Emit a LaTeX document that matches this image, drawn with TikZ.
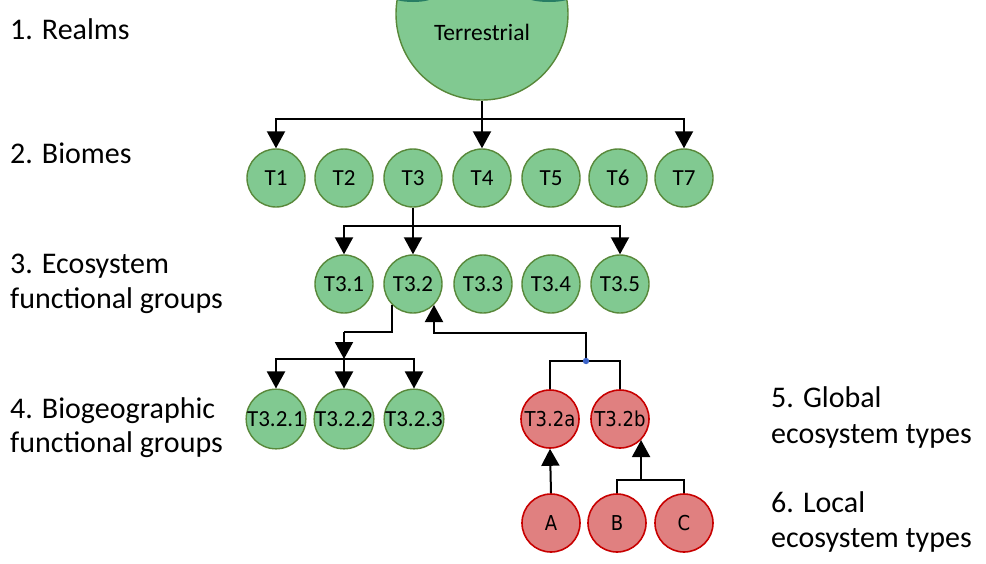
\documentclass[tikz,border=0pt]{standalone}
\usepackage{fontspec}
\setmainfont{Carlito}
\newfontfamily\redfont{DejaVu Sans}[FakeStretch=0.88]
\usetikzlibrary{arrows.meta,calc}
\definecolor{gfill}{RGB}{129,201,145}
\definecolor{gdraw}{RGB}{88,136,58}
\definecolor{rfill}{RGB}{224,128,128}
\definecolor{rdraw}{RGB}{200,0,0}
\definecolor{teal}{RGB}{40,125,100}
\definecolor{dotblue}{RGB}{60,100,200}
\begin{document}
\begin{tikzpicture}[x=1pt,y=-1pt,
  gnode/.style={circle,draw=gdraw,fill=gfill,line width=1.4pt,minimum size=58pt,inner sep=0pt,font=\fontsize{23}{25}\selectfont},
  rnode/.style={circle,draw=rdraw,fill=rfill,line width=1.6pt,minimum size=58pt,inner sep=0pt,font=\redfont\fontsize{20.5}{22}\selectfont},
  conn/.style={line width=2pt,black},
  arr/.style={conn,-{Triangle[length=17pt,width=18pt]}},
  lab/.style={anchor=base west,inner sep=0pt,font=\fontsize{30}{35}\selectfont}]
\useasboundingbox (0,0) rectangle (986,563);
% realm
\node[circle,draw=gdraw,fill=gfill,line width=1.4pt,minimum size=172pt,inner sep=0pt] (terr) at (482,14) {};
\begin{scope}
\clip (0,0) rectangle (986,563);
\fill[teal] (413,-3) ellipse (20pt and 5pt);
\fill[teal] (549,-3) ellipse (22pt and 5pt);
\end{scope}
\node[font=\fontsize{23.5}{25}\selectfont,inner sep=0pt] (terrtext) at (482,32) {Terrestrial};
% biomes
\foreach \n/\x in {1/276,2/344,3/413,4/482,5/551,6/618,7/684}
  \node[gnode] (t\n) at (\x,178) {T\n};
% EFGs
\foreach \n/\x in {1/344,2/413,3/483,4/551,5/620}
  \node[gnode] (t3\n) at (\x,284) {T3.\n};
% BFGs
\foreach \n/\x in {1/276,2/344,3/414}
  \node[gnode] (t32\n) at (\x,419) {T3.2.\n};
% GETs
\node[rnode] (t32a) at (550,419) {T3.2a};
\node[rnode] (t32b) at (620,419) {T3.2b};
% LETs
\node[rnode] (la) at (551,523) {A};
\node[rnode] (lb) at (617,523) {B};
\node[rnode] (lc) at (684,523) {C};
% junctions
\coordinate (j1) at (482,119);
\coordinate (j2) at (413,226);
\coordinate (j3) at ($(t32.-135)$);
\coordinate (j4) at (344,332);
\coordinate (j5) at (344,359);
\coordinate (d1) at (586,361);
\coordinate (e1) at ($(t32b.-45)+(0,39.5)$);
% realm -> biomes
\draw[conn] (terr.south) -- (j1);
\draw[arr] (j1) -| (t1.north);
\draw[arr] (j1) -- (t4.north);
\draw[arr] (j1) -| (t7.north);
% T3 -> EFGs
\draw[conn] (t3.south) -- (j2);
\draw[arr] (j2) -| (t31.north);
\draw[arr] (j2) -- (t32.north);
\draw[arr] (j2) -| (t35.north);
% T3.2 -> BFGs
\draw[conn] (j3) |- (j4);
\draw[arr] (j4) -- (j5);
\draw[arr] (j5) -| (t321.north);
\draw[arr] (j5) -- (t322.north);
\draw[arr] (j5) -| (t323.north);
% GETs -> T3.2
\draw[conn] (t32a.north) |- (d1) -| (t32b.north);
\draw[arr] (d1) |- ($(t32.-45)+(0,28)$) -- (t32.-45);
\fill[dotblue] (d1) circle (3.2pt);
% LETs -> GETs
\draw[arr] (la.north) -- (t32a.south);
\draw[conn] (lb.north) |- (e1) -| (lc.north);
\draw[arr] (e1) -- (t32b.-45);
% labels
\node[lab] (l1) at (10,39) {1. Realms};
\node[lab] (l2) at (10,163) {2. Biomes};
\node[lab] (l3a) at (10,273) {3. Ecosystem};
\node[lab] (l3b) at (10,308) {functional groups};
\node[lab] (l4a) at (10,418) {4. Biogeographic};
\node[lab] (l4b) at (10,452) {functional groups};
\node[lab] (l5a) at (771,407) {5. Global};
\node[lab] (l5b) at (771,443) {ecosystem types};
\node[lab] (l6a) at (771,512) {6. Local};
\node[lab] (l6b) at (771,547) {ecosystem types};
\end{tikzpicture}
\end{document}
